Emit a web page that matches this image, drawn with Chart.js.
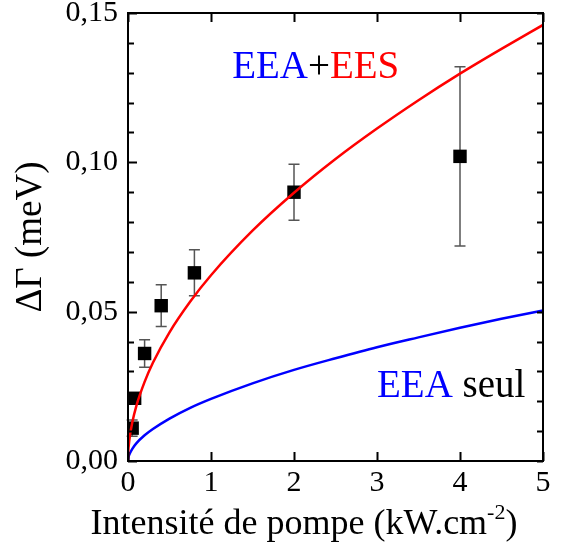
<!DOCTYPE html>
<html><head><meta charset="utf-8">
<script src="https://cdn.jsdelivr.net/npm/chart.js@4.4.1/dist/chart.umd.min.js"></script>
<style>html,body{margin:0;padding:0;background:#fff;}</style>
</head><body>
<canvas id="c" width="576" height="560" style="width:576px;height:560px;display:block"></canvas>
<script>
// ---- data ----
const xTickValues = [0, 1, 2, 3, 4, 5];
const yTickValues = [0, 0.05, 0.10, 0.15];
const measX   = [0.05, 0.08, 0.2, 0.4, 0.8, 2, 4];
const measY   = [0.011, 0.021, 0.036, 0.052, 0.063, 0.090, 0.102];
const measErr = [0.0027, 0.0012, 0.0046, 0.0070, 0.0077, 0.0094, 0.0300];
const curveX  = [0, 0.005, 0.01, 0.02, 0.05, 0.1, 0.2, 0.3, 0.5, 0.75, 1, 1.5, 2, 2.5, 3, 3.5, 4, 4.5, 5];
const redY    = [0, 0.0038, 0.0054, 0.0078, 0.0127, 0.0184, 0.0265, 0.0329, 0.0431, 0.0534, 0.0622, 0.0771, 0.0898, 0.1011, 0.1113, 0.1208, 0.1297, 0.1380, 0.1460];
const blueY   = [0, 0.0011, 0.0017, 0.0024, 0.0040, 0.0059, 0.0086, 0.0107, 0.0142, 0.0178, 0.0208, 0.0260, 0.0305, 0.0344, 0.0381, 0.0414, 0.0446, 0.0476, 0.0504];

const SERIF = "'Liberation Serif', 'Times New Roman', serif";
const BLUE = '#0000ff', RED = '#ff0000';

const pts = (xs, ys) => xs.map((v, i) => ({x: v, y: ys[i]}));

const decor = {
  id: 'decor',
  beforeDatasetsDraw(chart) {
    const {ctx, scales: {x, y}} = chart;
    ctx.save();
    ctx.strokeStyle = '#555';
    ctx.lineWidth = 1.5;
    measX.forEach((v, i) => {
      const px = x.getPixelForValue(v);
      const t = y.getPixelForValue(measY[i] + measErr[i]);
      const b = y.getPixelForValue(measY[i] - measErr[i]);
      ctx.beginPath();
      ctx.moveTo(px, t); ctx.lineTo(px, b);
      ctx.moveTo(px - 5.5, t); ctx.lineTo(px + 5.5, t);
      ctx.moveTo(px - 5.5, b); ctx.lineTo(px + 5.5, b);
      ctx.stroke();
    });
    ctx.restore();
  },
  afterDatasetsDraw(chart) {
    const {ctx, chartArea: a, scales: {x, y}} = chart;
    ctx.save();
    ctx.strokeStyle = '#000';
    ctx.lineWidth = 2;
    ctx.strokeRect(a.left, a.top, a.right - a.left, a.bottom - a.top);
    ctx.beginPath();
    for (let k = 0; k <= 15; k++) {
      const v = k / 100;
      const py = Math.round(y.getPixelForValue(v)) + 0.5;
      const major = yTickValues.some(t => Math.abs(t - v) < 1e-9);
      const L = major ? 9 : 6;
      ctx.moveTo(a.left, py); ctx.lineTo(a.left + L, py);
      ctx.moveTo(a.right, py); ctx.lineTo(a.right - 6, py);
    }
    xTickValues.forEach(v => {
      const px = Math.round(x.getPixelForValue(v)) + 0.5;
      ctx.moveTo(px, a.bottom); ctx.lineTo(px, a.bottom - 9);
      ctx.moveTo(px, a.top); ctx.lineTo(px, a.top + 9);
    });
    ctx.stroke();

    const drawParts = (parts, left, base) => {
      let cx = left;
      parts.forEach(([txt, col]) => {
        ctx.fillStyle = col;
        ctx.fillText(txt, cx, base);
        cx += ctx.measureText(txt).width;
      });
    };
    ctx.font = '39px ' + SERIF;
    ctx.textBaseline = 'alphabetic';
    ctx.textAlign = 'left';
    drawParts([['EEA', BLUE], ['+', '#000'], ['EES', RED]], x.getPixelForValue(1.255), y.getPixelForValue(0.1282));
    drawParts([['EEA', BLUE], [' seul', '#000']], x.getPixelForValue(3.0), y.getPixelForValue(0.0214));

    const main = 'Intensité de pompe (kW.cm', sup = '-2', end = ')';
    const fMain = '36px ' + SERIF, fSup = '22px ' + SERIF;
    ctx.font = fMain; const w1 = ctx.measureText(main).width, w3 = ctx.measureText(end).width;
    ctx.font = fSup; const w2 = ctx.measureText(sup).width;
    const total = w1 + w2 + w3;
    let sx = 304 - total / 2;
    const base = 534;
    ctx.fillStyle = '#000';
    ctx.font = fMain; ctx.fillText(main, sx, base); sx += w1;
    ctx.font = fSup; ctx.fillText(sup, sx, base - 15); sx += w2;
    ctx.font = fMain; ctx.fillText(end, sx, base);
    ctx.restore();
  }
};

new Chart(document.getElementById('c'), {
  type: 'scatter',
  data: {
    datasets: [
      {label: 'EEA+EES', type: 'line', data: pts(curveX, redY), borderColor: RED, borderWidth: 2.5,
       pointRadius: 0, fill: false, cubicInterpolationMode: 'monotone', order: 0},
      {label: 'EEA seul', type: 'line', data: pts(curveX, blueY), borderColor: BLUE, borderWidth: 2.5,
       pointRadius: 0, fill: false, cubicInterpolationMode: 'monotone', order: 1},
      {label: 'mesures', data: pts(measX, measY), pointStyle: 'rect', pointRadius: 9.5,
       backgroundColor: '#000', borderColor: '#000', borderWidth: 0, order: 2}
    ]
  },
  options: {
    responsive: false,
    animation: false,
    devicePixelRatio: 1,
    layout: {padding: {left: 0, top: 13, right: 33, bottom: 0}},
    plugins: {legend: {display: false}, tooltip: {enabled: false}},
    scales: {
      x: {
        type: 'linear', min: 0, max: 5,
        afterBuildTicks: s => { s.ticks = xTickValues.map(v => ({value: v})); },
        ticks: {font: {family: SERIF, size: 30}, color: '#000', padding: 4, maxRotation: 0,
                callback: v => String(v)},
        grid: {display: false, drawTicks: false},
        border: {display: false},
        title: {display: false},
        afterFit: s => { s.height = 99; s.paddingLeft = 0; s.paddingRight = 0; }
      },
      y: {
        type: 'linear', min: 0, max: 0.15,
        afterBuildTicks: s => { s.ticks = yTickValues.map(v => ({value: v})); },
        ticks: {font: {family: SERIF, size: 30}, color: '#000', padding: 10,
                callback: v => v.toFixed(2).replace('.', ',')},
        grid: {display: false, drawTicks: false},
        border: {display: false},
        title: {display: true, text: 'ΔΓ (meV)', color: '#000',
                font: {family: SERIF, size: 37, lineHeight: 1}, padding: {top: 13, bottom: 0}},
        afterFit: s => { s.width = 128; s.paddingTop = 0; s.paddingBottom = 0; }
      }
    }
  },
  plugins: [decor]
});
</script>
</body></html>
